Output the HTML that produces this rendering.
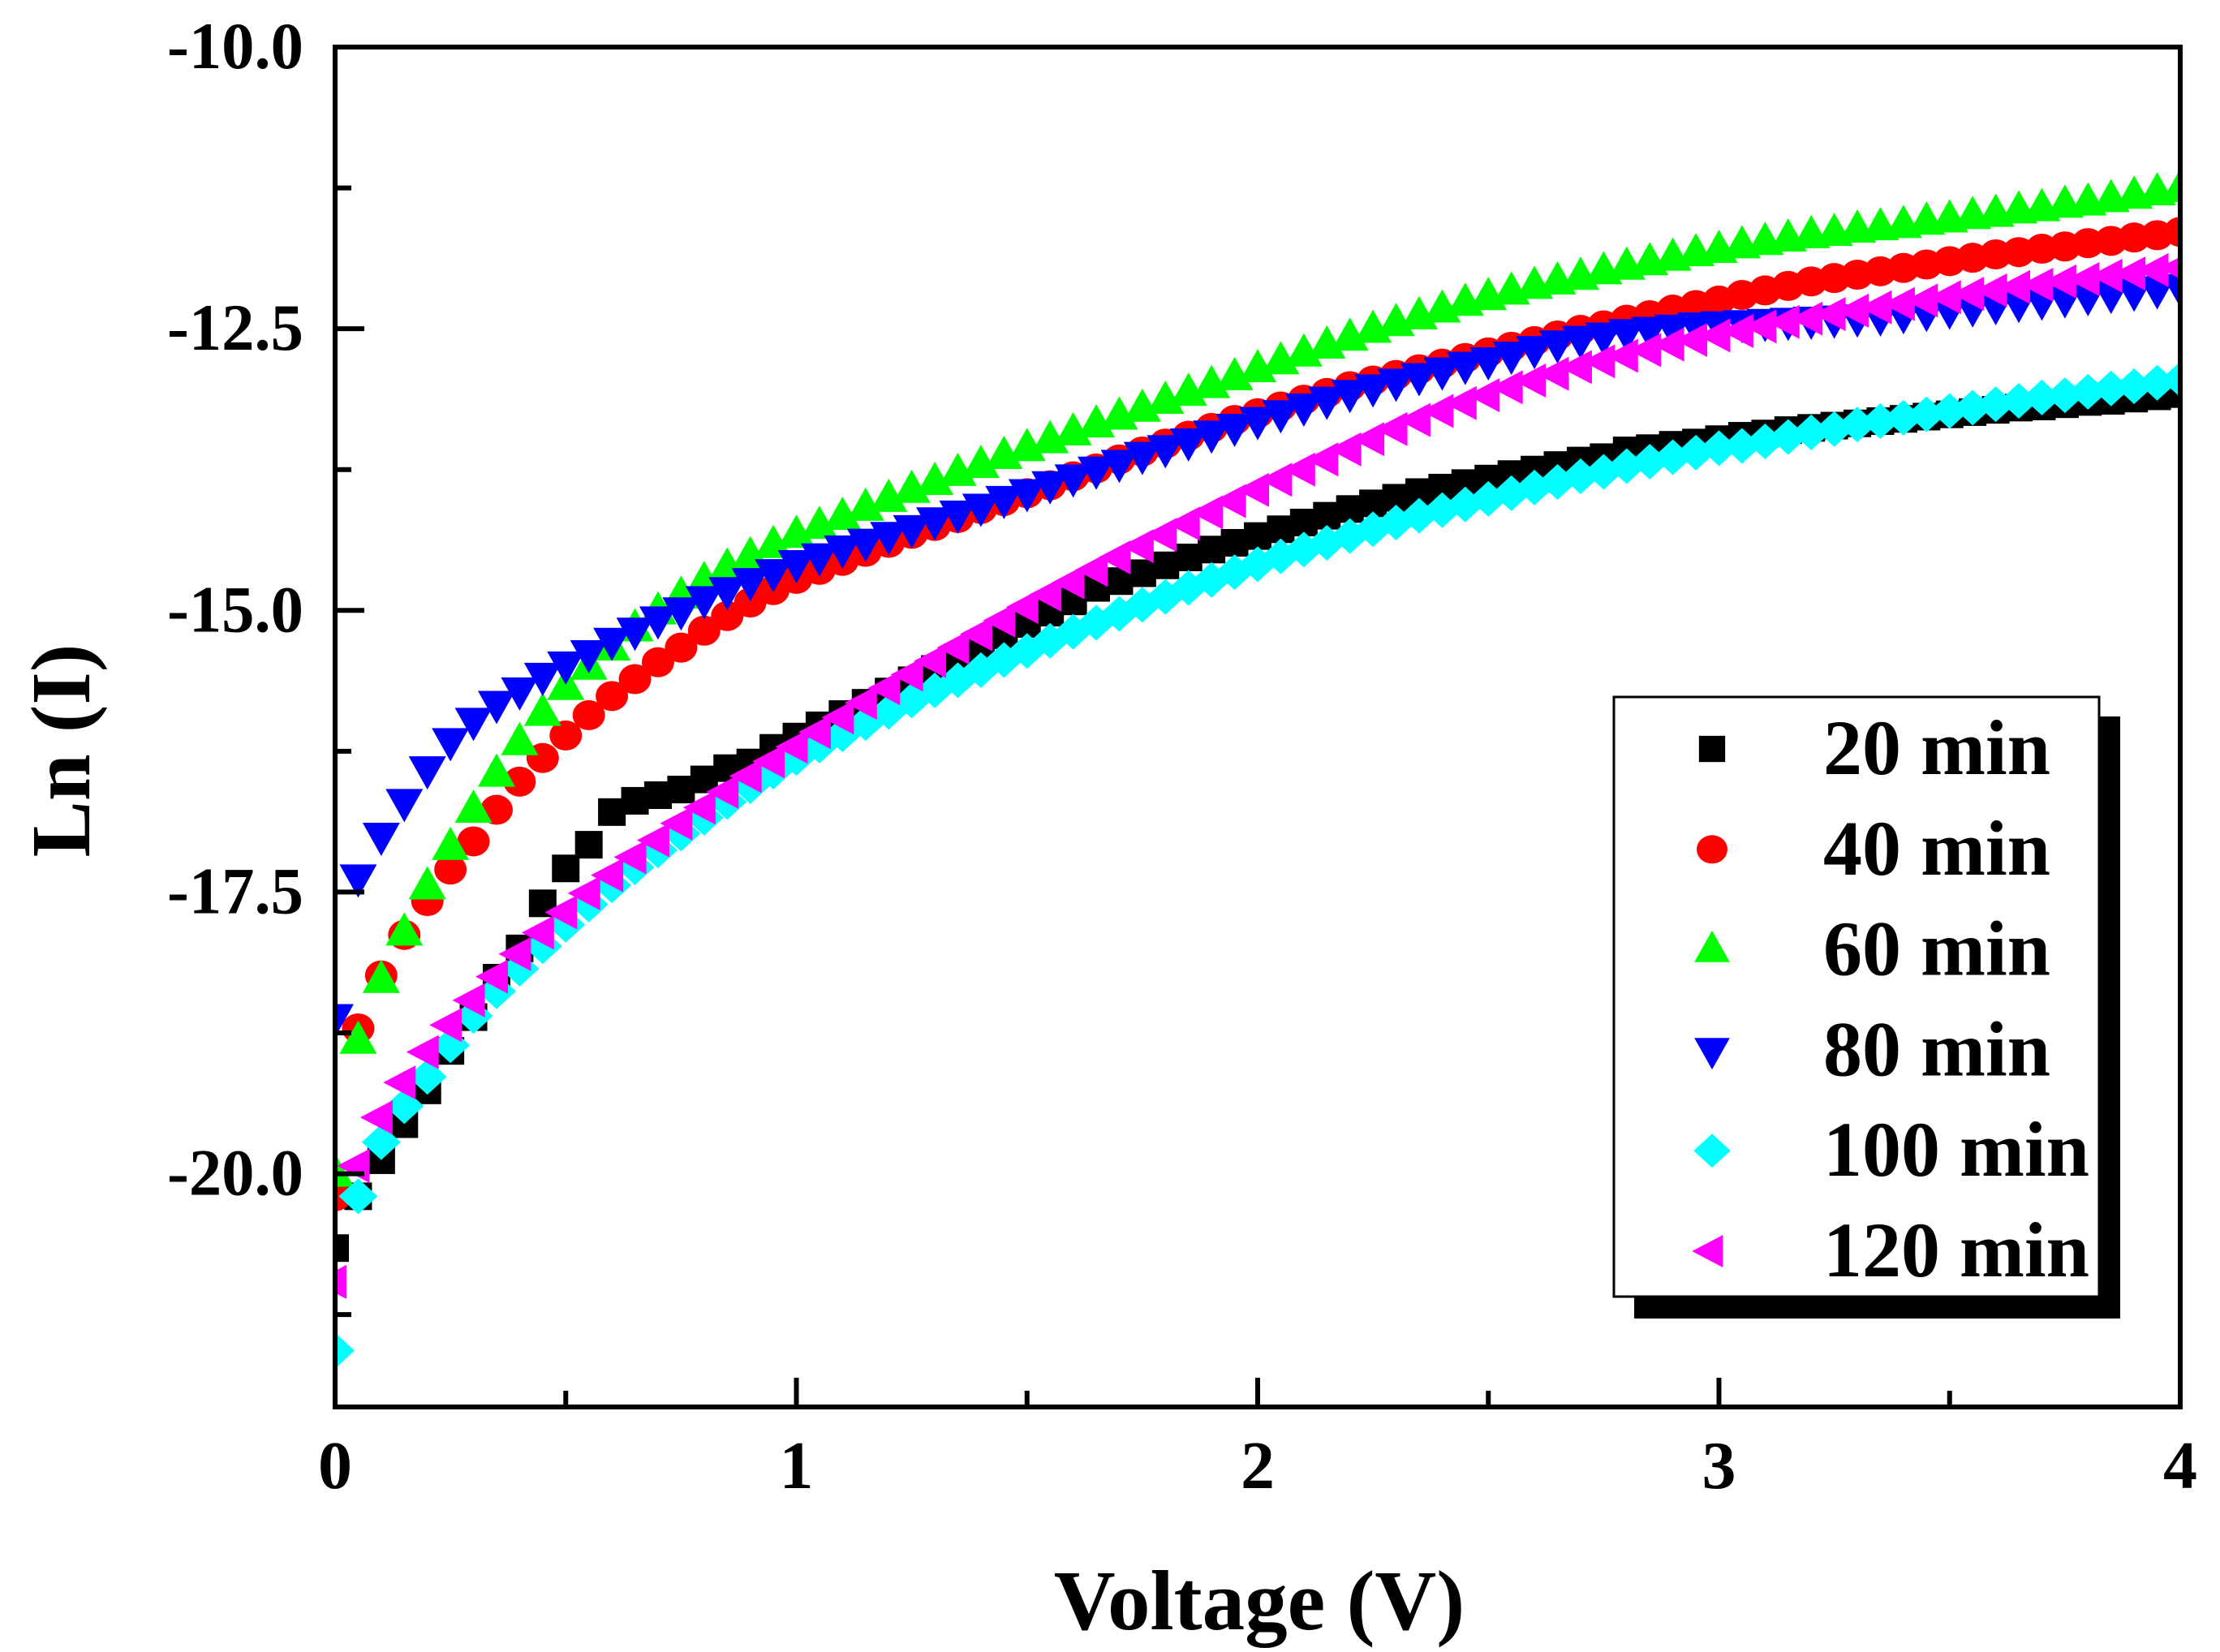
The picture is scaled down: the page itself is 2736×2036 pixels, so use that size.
<!DOCTYPE html>
<html>
<head>
<meta charset="utf-8">
<style>
html,body{margin:0;padding:0;background:#fff;}
svg{display:block;}
text{font-family:"Liberation Serif",serif;font-weight:bold;fill:#000;}
</style>
</head>
<body>
<svg id="chart" width="2736" height="2036" viewBox="0 0 2736 2036" xmlns="http://www.w3.org/2000/svg">
<defs><clipPath id="plotclip"><rect x="413" y="58" width="2274" height="1676"/></clipPath></defs>
<g id="marks" clip-path="url(#plotclip)"></g>
<g id="axes"></g>
<g id="legend"></g>
</svg>
<script>
const voltages = [];
for (let i = 0; i <= 80; i++) voltages.push(i * 0.05);
const seriesNames = ["20 min","40 min","60 min","80 min","100 min","120 min"];
const s20 = [-20.66,-20.20,-19.88,-19.56,-19.26,-18.91,-18.61,-18.26,-18.00,-17.60,-17.29,-17.08,-16.79,-16.69,-16.64,-16.59,-16.50,-16.40,-16.35,-16.22,-16.12,
-16.02,-15.92,-15.82,-15.72,-15.62,-15.52,-15.42,-15.32,-15.22,-15.12,-15.02,-14.92,-14.80,-14.74,-14.67,-14.60,-14.53,-14.46,-14.40,-14.34,
-14.28,-14.22,-14.16,-14.10,-14.05,-14.00,-13.95,-13.91,-13.87,-13.83,-13.79,-13.75,-13.71,-13.67,-13.64,-13.58,-13.56,-13.53,-13.51,-13.48,
-13.45,-13.43,-13.40,-13.38,-13.36,-13.34,-13.32,-13.30,-13.28,-13.26,-13.24,-13.22,-13.20,-13.19,-13.17,-13.15,-13.14,-13.12,-13.10,-13.08];
const s40 = [-20.20,-18.71,-18.24,-17.88,-17.58,-17.30,-17.05,-16.77,-16.52,-16.31,-16.11,-15.93,-15.76,-15.61,-15.46,-15.33,-15.18,-15.05,-14.93,-14.82,-14.72,
-14.64,-14.56,-14.48,-14.40,-14.32,-14.25,-14.18,-14.10,-14.03,-13.96,-13.89,-13.81,-13.74,-13.66,-13.59,-13.52,-13.45,-13.38,-13.31,-13.25,
-13.19,-13.13,-13.07,-13.01,-12.96,-12.91,-12.86,-12.81,-12.76,-12.71,-12.66,-12.61,-12.56,-12.51,-12.47,-12.42,-12.38,-12.33,-12.29,-12.25,
-12.20,-12.16,-12.12,-12.08,-12.05,-12.02,-11.99,-11.96,-11.93,-11.90,-11.87,-11.84,-11.82,-11.79,-11.77,-11.74,-11.72,-11.69,-11.67,-11.64];
const s60 = [-20.00,-18.82,-18.28,-17.86,-17.45,-17.10,-16.77,-16.45,-16.17,-15.91,-15.68,-15.50,-15.33,-15.16,-15.01,-14.87,-14.74,-14.62,-14.52,-14.42,-14.33,
-14.25,-14.17,-14.09,-14.01,-13.93,-13.86,-13.78,-13.71,-13.63,-13.56,-13.49,-13.42,-13.35,-13.28,-13.21,-13.14,-13.07,-13.00,-12.93,-12.86,
-12.79,-12.72,-12.65,-12.58,-12.51,-12.45,-12.39,-12.33,-12.27,-12.22,-12.17,-12.12,-12.08,-12.04,-11.99,-11.95,-11.91,-11.87,-11.83,-11.80,
-11.76,-11.73,-11.70,-11.67,-11.65,-11.62,-11.60,-11.58,-11.55,-11.53,-11.50,-11.48,-11.45,-11.43,-11.40,-11.38,-11.35,-11.32,-11.29,-11.26];
const s80 = [-18.61,-17.37,-17.00,-16.70,-16.41,-16.16,-15.98,-15.83,-15.71,-15.58,-15.48,-15.38,-15.27,-15.18,-15.08,-15.00,-14.90,-14.82,-14.74,-14.66,-14.58,
-14.52,-14.45,-14.39,-14.33,-14.27,-14.20,-14.14,-14.08,-14.01,-13.95,-13.88,-13.82,-13.75,-13.69,-13.62,-13.56,-13.50,-13.43,-13.37,-13.31,
-13.25,-13.19,-13.13,-13.07,-13.02,-12.97,-12.92,-12.87,-12.82,-12.78,-12.73,-12.68,-12.63,-12.59,-12.56,-12.53,-12.51,-12.49,-12.47,-12.46,
-12.45,-12.44,-12.43,-12.42,-12.41,-12.40,-12.39,-12.37,-12.35,-12.33,-12.31,-12.29,-12.27,-12.25,-12.23,-12.21,-12.19,-12.17,-12.15,-12.13];
const s100 = [-21.57,-20.20,-19.72,-19.40,-19.14,-18.86,-18.60,-18.38,-18.18,-17.98,-17.79,-17.61,-17.44,-17.28,-17.13,-16.98,-16.84,-16.70,-16.56,-16.43,-16.31,
-16.20,-16.10,-16.00,-15.90,-15.80,-15.71,-15.62,-15.53,-15.44,-15.36,-15.27,-15.19,-15.11,-15.03,-14.95,-14.88,-14.80,-14.73,-14.66,-14.59,
-14.52,-14.46,-14.40,-14.34,-14.28,-14.22,-14.16,-14.11,-14.06,-14.01,-13.96,-13.91,-13.86,-13.81,-13.77,-13.72,-13.68,-13.64,-13.60,-13.56,
-13.54,-13.50,-13.46,-13.42,-13.39,-13.35,-13.32,-13.29,-13.26,-13.23,-13.20,-13.17,-13.14,-13.11,-13.09,-13.06,-13.03,-13.01,-12.98,-12.95];
const s120 = [-20.96,-19.93,-19.50,-19.19,-18.92,-18.68,-18.46,-18.25,-18.05,-17.86,-17.68,-17.51,-17.35,-17.19,-17.04,-16.89,-16.75,-16.61,-16.47,-16.34,-16.21,
-16.08,-15.95,-15.82,-15.69,-15.57,-15.45,-15.33,-15.21,-15.09,-14.97,-14.86,-14.75,-14.64,-14.53,-14.43,-14.33,-14.23,-14.13,-14.03,-13.93,
-13.84,-13.75,-13.66,-13.57,-13.48,-13.39,-13.31,-13.23,-13.16,-13.09,-13.02,-12.96,-12.90,-12.84,-12.79,-12.74,-12.69,-12.64,-12.60,-12.56,
-12.52,-12.48,-12.44,-12.41,-12.37,-12.34,-12.31,-12.28,-12.25,-12.22,-12.19,-12.16,-12.13,-12.11,-12.08,-12.06,-12.03,-12.01,-11.98,-11.96];
const xTickLabels = ["0","1","2","3","4"];
const yTickLabels = ["-10.0","-12.5","-15.0","-17.5","-20.0"];

const NS = "http://www.w3.org/2000/svg";
const L = 413, R = 2687, T = 58, B = 1734;
const xMin = 0, xMax = 4, yMax = -10, yMin = -22.07;
function xs(v){ return L + (v - xMin) / (xMax - xMin) * (R - L); }
function ys(v){ return T + (yMax - v) / (yMax - yMin) * (B - T); }
function mk(tag, attrs, parent){ const e = document.createElementNS(NS, tag); for (const k in attrs) e.setAttribute(k, attrs[k]); parent.appendChild(e); return e; }

function marker(shape, color, cx, cy, parent, scale){
  const s = scale || 1; let e;
  if (shape === "square") e = mk("rect", {x: cx-17*s, y: cy-17*s, width: 34*s, height: 34*s, fill: color}, parent);
  else if (shape === "circle") e = mk("ellipse", {cx: cx, cy: cy, rx: 20*s, ry: 18.5*s, fill: color}, parent);
  else if (shape === "up") e = mk("polygon", {points: `${cx},${cy-25*s} ${cx+23*s},${cy+16*s} ${cx-23*s},${cy+16*s}`, fill: color}, parent);
  else if (shape === "down") e = mk("polygon", {points: `${cx},${cy+25*s} ${cx+23*s},${cy-16*s} ${cx-23*s},${cy-16*s}`, fill: color}, parent);
  else if (shape === "diamond") e = mk("polygon", {points: `${cx},${cy-22*s} ${cx+24*s},${cy} ${cx},${cy+22*s} ${cx-24*s},${cy}`, fill: color}, parent);
  else e = mk("polygon", {points: `${cx-26*s},${cy} ${cx+14*s},${cy-21*s} ${cx+14*s},${cy+21*s}`, fill: color}, parent);
  return e;
}

const allSeries = [s20, s40, s60, s80, s100, s120];
const colors = ["#000000","#ff0000","#00ff00","#0000ff","#00ffff","#ff00ff"];
const shapes = ["square","circle","up","down","diamond","left"];
const marks = document.getElementById("marks");
allSeries.forEach((vals, si) => {
  const g = mk("g", {}, marks);
  
  
  vals.forEach((v, i) => {
    const p = marker(shapes[si], colors[si], xs(voltages[i]), ys(v), g);
    
    
  });
});

const axes = document.getElementById("axes");
const frame = mk("rect", {x: L, y: T, width: R-L, height: B-T, fill: "none", stroke: "#000", "stroke-width": 6}, axes);


xTickLabels.forEach((lab, i) => {
  const v = parseFloat(lab), x = xs(v);
  const t = mk("line", {x1: x, y1: B, x2: x, y2: B-36, stroke: "#000", "stroke-width": 6}, axes);
  
  
  if (i < xTickLabels.length - 1) {
    const xm = xs(v + 0.5);
    const m = mk("line", {x1: xm, y1: B, x2: xm, y2: B-20, stroke: "#000", "stroke-width": 6}, axes);
    
    
  }
  const tx = mk("text", {x: x, y: 1834, "font-size": 84, "text-anchor": "middle"}, axes);
  tx.textContent = lab;
  
  
});
yTickLabels.forEach((lab) => {
  const v = parseFloat(lab), y = ys(v);
  const t = mk("line", {x1: L, y1: y, x2: L+36, y2: y, stroke: "#000", "stroke-width": 6}, axes);
  
  
  const ym = ys(v - 1.25);
  const m = mk("line", {x1: L, y1: ym, x2: L+20, y2: ym, stroke: "#000", "stroke-width": 6}, axes);
  
  
  const tx = mk("text", {x: 374, y: y+26, "font-size": 82, "text-anchor": "end", textLength: 168, lengthAdjust: "spacingAndGlyphs"}, axes);
  tx.textContent = lab;
  
  
});
const xt = mk("text", {x: 1552, y: 2008, "font-size": 105, "text-anchor": "middle"}, axes);
xt.textContent = "Voltage (V)";


const yt = mk("text", {x: 0, y: 0, "font-size": 104, "text-anchor": "middle", transform: "translate(110,925) rotate(-90)"}, axes);
yt.textContent = "Ln (I)";



const leg = document.getElementById("legend");
const sh = mk("rect", {x: 2014, y: 883, width: 599, height: 742, fill: "#000"}, leg);


const box = mk("rect", {x: 1989, y: 859, width: 598, height: 739, fill: "#fff", stroke: "#000", "stroke-width": 3}, leg);


seriesNames.forEach((name, i) => {
  const base = 954 + i * 123.8;
  const g = mk("g", {}, leg);
  
  
  marker(shapes[i], colors[i], 2110, base - 31, g, 0.95);
  const t = mk("text", {x: 2247, y: base, "font-size": 96}, g);
  t.textContent = name;
});
</script>
</body>
</html>
